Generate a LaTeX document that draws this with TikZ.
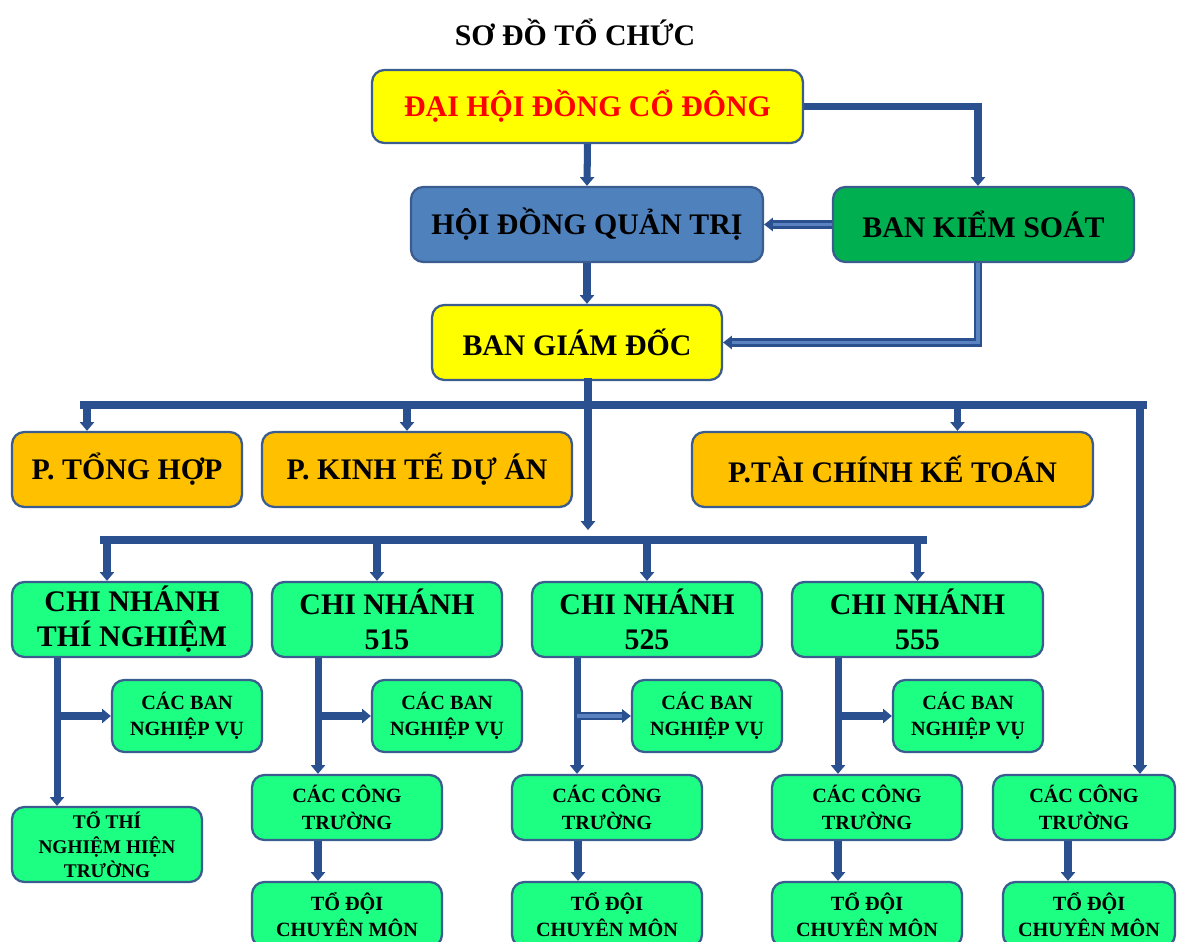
\documentclass[tikz,border=0pt]{standalone}
\usepackage{fontspec}
\setmainfont{Liberation Serif}
\usetikzlibrary{arrows.meta, positioning, calc}
\definecolor{orgline}{HTML}{2B5090}
\definecolor{orglight}{HTML}{5A82C0}
\definecolor{orgborder}{HTML}{3A5C8F}
\definecolor{orgyellow}{HTML}{FFFF00}
\definecolor{orgblue}{HTML}{4F81BD}
\definecolor{orggreen}{HTML}{00B050}
\definecolor{orgorange}{HTML}{FFC000}
\definecolor{orgmint}{HTML}{1CFF82}
\definecolor{orgred}{HTML}{FF0000}

\begin{document}
\begin{tikzpicture}[
        x=0.02cm, y=-0.02cm,
        orgbox/.style={
            draw=orgborder,
            line width=1.3pt,
            rounded corners=7pt,
            align=center,
            inner sep=2pt
        },
        bigbox/.style={orgbox, minimum height=1.5cm, font=\bfseries\fontsize{17}{20}\selectfont},
        branchbox/.style={orgbox, fill=orgmint, minimum height=1.5cm, font=\bfseries\fontsize{17}{20}\selectfont},
        smallbox/.style={orgbox, fill=orgmint, font=\bfseries\fontsize{11.5}{15}\selectfont},
        link/.style={-{Triangle[width=8pt,length=5pt]}, line width=4pt, orgline},
        bar/.style={line width=4pt, line cap=rect, orgline},
        dlink/.style={-{Triangle[width=7.5pt,length=5pt]}, draw=orgline, line width=1.4pt, double=orglight, double distance=2.2pt}
    ]
        \useasboundingbox (0,0) rectangle (1181,942);

        \node[font=\bfseries\fontsize{17}{20}\selectfont] (title) at (575,32) {SƠ ĐỒ TỔ CHỨC};

        % top levels
        \node[bigbox, fill=orgyellow, text=orgred, minimum width=8.62cm, minimum height=1.46cm] (dhdcd) at (587.5,106.5) {ĐẠI HỘI ĐỒNG CỔ ĐÔNG};
        \node[bigbox, fill=orgblue, minimum width=7.04cm] (hdqt) at (587,224.5) {HỘI ĐỒNG QUẢN TRỊ};
        \node[bigbox, fill=orggreen, minimum width=6.02cm] (bks) at (983.5,224.5) {BAN KIỂM SOÁT};
        \node[bigbox, fill=orgyellow, minimum width=5.8cm] (bgd) at (577,342.5) {BAN GIÁM ĐỐC};

        % departments
        \node[bigbox, fill=orgorange, minimum width=4.6cm] (pth) at (127,469.5) {P. TỔNG HỢP};
        \node[bigbox, fill=orgorange, minimum width=6.2cm] (pkt) at (417,469.5) {P. KINH TẾ DỰ ÁN};
        \node[bigbox, fill=orgorange, minimum width=8.02cm] (ptc) at (892.5,469.5) {P.TÀI CHÍNH KẾ TOÁN};

        % branches
        \node[branchbox, minimum width=4.8cm] (cntn) at (132,619.5) {CHI NHÁNH\\THÍ NGHIỆM};
        \node[branchbox, minimum width=4.6cm] (cn515) at (387,619.5) {CHI NHÁNH\\515};
        \node[branchbox, minimum width=4.6cm] (cn525) at (647,619.5) {CHI NHÁNH\\525};
        \node[branchbox, minimum width=5.02cm] (cn555) at (917.5,619.5) {CHI NHÁNH\\555};

        \node[smallbox, minimum width=3cm, minimum height=1.44cm] (bantn) at (187,716) {CÁC BAN\\NGHIỆP VỤ};
        \node[smallbox, minimum width=3cm, minimum height=1.44cm] (ban515) at (447,716) {CÁC BAN\\NGHIỆP VỤ};
        \node[smallbox, minimum width=3cm, minimum height=1.44cm] (ban525) at (707,716) {CÁC BAN\\NGHIỆP VỤ};
        \node[smallbox, minimum width=3cm, minimum height=1.44cm] (ban555) at (968,716) {CÁC BAN\\NGHIỆP VỤ};

        \node[smallbox, minimum width=3.8cm, minimum height=1.3cm] (ct515) at (347,807.5) {CÁC CÔNG\\TRƯỜNG};
        \node[smallbox, minimum width=3.8cm, minimum height=1.3cm] (ct525) at (607,807.5) {CÁC CÔNG\\TRƯỜNG};
        \node[smallbox, minimum width=3.8cm, minimum height=1.3cm] (ct555) at (867,807.5) {CÁC CÔNG\\TRƯỜNG};
        \node[smallbox, minimum width=3.64cm, minimum height=1.3cm] (ctcty) at (1084,807.5) {CÁC CÔNG\\TRƯỜNG};

        \node[smallbox, minimum width=3.8cm, minimum height=1.5cm, font=\bfseries\fontsize{11}{14}\selectfont]
            (totn) at (107,844.5) {TỔ THÍ\\NGHIỆM HIỆN\\TRƯỜNG};

        \node[smallbox, minimum width=3.8cm, minimum height=1.3cm] (td515) at (347,914.5) {TỔ ĐỘI\\CHUYÊN MÔN};
        \node[smallbox, minimum width=3.8cm, minimum height=1.3cm] (td525) at (607,914.5) {TỔ ĐỘI\\CHUYÊN MÔN};
        \node[smallbox, minimum width=3.8cm, minimum height=1.3cm] (td555) at (867,914.5) {TỔ ĐỘI\\CHUYÊN MÔN};
        \node[smallbox, minimum width=3.44cm, minimum height=1.3cm] (tdcty) at (1089,914.5) {TỔ ĐỘI\\CHUYÊN MÔN};

        % top connectors
        \draw[link] (dhdcd.south) -- (hdqt.north);
        \draw[link] (dhdcd.east) -| ([xshift=-0.11cm]bks.north);
        \draw[dlink] (bks.west) -- (hdqt.east);
        \draw[dlink] ([xshift=-0.11cm]bks.south) |- (bgd.east);
        \draw[link] (hdqt.south) -- (hdqt.south |- bgd.north);

        % department bus
        \coordinate (topbus) at (588,405);
        \coordinate (busleft) at (84,405);
        \coordinate (busright) at (1143,405);
        \draw[bar] (topbus |- bgd.south) -- (topbus);
        \draw[bar] (busleft) -- (busright);
        \draw[link] ([xshift=-0.8cm]pth.north |- busleft) -- ([xshift=-0.8cm]pth.north);
        \draw[link] ([xshift=-0.2cm]pkt.north |- busleft) -- ([xshift=-0.2cm]pkt.north);
        \draw[link] ([xshift=1.3cm]ptc.north |- busleft) -- ([xshift=1.3cm]ptc.north);
        \draw[link] ([xshift=1.12cm]ctcty.north |- busright) -- ([xshift=1.12cm]ctcty.north);

        % branch bus
        \coordinate (lowleft) at (104,540);
        \coordinate (lowright) at (923,540);
        \draw[link] (topbus) -- ([yshift=0.2cm]topbus |- lowleft);
        \draw[bar] (lowleft) -- (lowright);
        \draw[link] ([xshift=-0.5cm]cntn.north |- lowleft) -- ([xshift=-0.5cm]cntn.north);
        \draw[link] ([xshift=-0.2cm]cn515.north |- lowleft) -- ([xshift=-0.2cm]cn515.north);
        \draw[link] (cn525.north |- lowleft) -- (cn525.north);
        \draw[link] (cn555.north |- lowleft) -- (cn555.north);

        % inside the branches
        \draw[link] ([xshift=-1.5cm]cntn.south) -- ([xshift=-1.5cm]cntn.south |- totn.north);
        \draw[link] ([xshift=-1.5cm]cntn.south |- bantn.west) -- (bantn.west);
        \draw[link] ([xshift=-1.38cm]cn515.south) -- ([xshift=-1.38cm]cn515.south |- ct515.north);
        \draw[link] ([xshift=-1.38cm]cn515.south |- ban515.west) -- (ban515.west);
        \draw[link] ([xshift=-1.4cm]cn525.south) -- ([xshift=-1.4cm]cn525.south |- ct525.north);
        \draw[dlink] ([xshift=-1.4cm]cn525.south |- ban525.west) -- (ban525.west);
        \draw[link] ([xshift=-1.59cm]cn555.south) -- ([xshift=-1.59cm]cn555.south |- ct555.north);
        \draw[link] ([xshift=-1.59cm]cn555.south |- ban555.west) -- (ban555.west);

        \draw[link] ([xshift=-0.58cm]ct515.south) -- ([xshift=-0.58cm]ct515.south |- td515.north);
        \draw[link] ([xshift=-0.58cm]ct525.south) -- ([xshift=-0.58cm]ct525.south |- td525.north);
        \draw[link] ([xshift=-0.58cm]ct555.south) -- ([xshift=-0.58cm]ct555.south |- td555.north);
        \draw[link] ([xshift=-0.32cm]ctcty.south) -- ([xshift=-0.32cm]ctcty.south |- tdcty.north);
    \end{tikzpicture}
\end{document}
